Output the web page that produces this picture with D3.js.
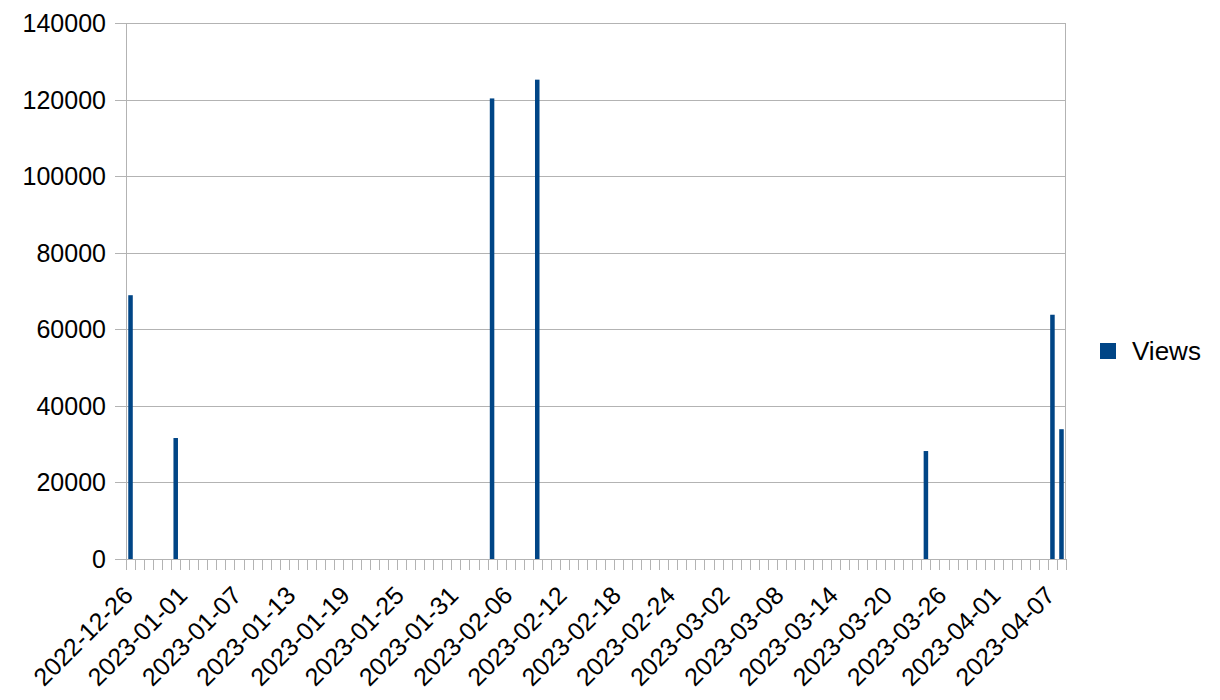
<!DOCTYPE html>
<html lang="en">
<head>
  <meta charset="UTF-8">
  <title>Views</title>
  <script src="https://d3js.org/d3.v7.min.js"></script>
  <style>
    body {
      margin: 0;
      background: #fff;
      font-family: 'Liberation Sans', Arial, sans-serif;
    }
    .axis-text {
      fill: #000;
    }
  </style>
</head>
<body>
  <svg id="chart" width="1220" height="700"></svg>

  <script>
    // first and last day on the category axis (one category per day)
    const firstDay = "2022-12-26";
    const lastDay = "2023-04-08";

    // days that have views
    const viewDates = ["2022-12-26", "2022-12-31", "2023-02-04", "2023-02-09", "2023-03-24", "2023-04-07", "2023-04-08"];
    const viewValues = [68900, 31600, 120300, 125200, 28200, 63800, 33900];

    const yTicks = [0, 20000, 40000, 60000, 80000, 100000, 120000, 140000];
    const labelEvery = 6;

    const parse = d3.utcParse("%Y-%m-%d");
    const fmt = d3.utcFormat("%Y-%m-%d");
    const days = d3.utcDay.range(parse(firstDay), d3.utcDay.offset(parse(lastDay), 1)).map(fmt);

    const data = viewDates.map((d, i) => ({date: d, value: viewValues[i]}));

    const svg = d3.select("#chart");
    const margin = {top: 23, right: 154, bottom: 141, left: 126};
    const width = 1220 - margin.left - margin.right;
    const height = 700 - margin.top - margin.bottom;
    const g = svg.append("g").attr("transform", `translate(${margin.left},${margin.top})`);

    const x = d3.scaleBand()
                .domain(days)
                .range([0, width]);

    const y = d3.scaleLinear()
                .domain([0, 140000])
                .range([height, 0]);

    // gridlines
    g.selectAll(".grid")
      .data(yTicks)
      .enter()
      .append("line")
      .attr("x1", -11)
      .attr("x2", width)
      .attr("y1", d => Math.round(y(d)) + 0.5)
      .attr("y2", d => Math.round(y(d)) + 0.5)
      .attr("stroke", "#b3b3b3")
      .attr("stroke-width", 1);

    // left axis line and right border
    g.append("line")
      .attr("x1", 0.5).attr("x2", 0.5)
      .attr("y1", 0).attr("y2", height)
      .attr("stroke", "#b3b3b3");
    g.append("line")
      .attr("x1", width - 0.5).attr("x2", width - 0.5)
      .attr("y1", 0).attr("y2", height)
      .attr("stroke", "#b3b3b3");

    // category tick marks at boundaries
    const bounds = days.map(d => x(d)).concat([width]);
    g.selectAll(".xtick")
      .data(bounds)
      .enter()
      .append("line")
      .attr("x1", d => Math.round(d) + 0.5)
      .attr("x2", d => Math.round(d) + 0.5)
      .attr("y1", height)
      .attr("y2", height + 11)
      .attr("stroke", "#b3b3b3");

    // y labels
    g.selectAll(".ylabel")
      .data(yTicks)
      .enter()
      .append("text")
      .attr("class", "axis-text")
      .style("font-size", "25px")
      .attr("x", -20)
      .attr("y", d => y(d))
      .attr("dy", "0.36em")
      .attr("text-anchor", "end")
      .text(d => d);

    // x labels, rotated
    const labelled = days.filter((d, i) => i % labelEvery === 0);
    g.selectAll(".xlabel")
      .data(labelled)
      .enter()
      .append("text")
      .attr("class", "axis-text")
      .style("font-size", "25px")
      .attr("text-anchor", "end")
      .attr("transform", d => `translate(${x(d) + x.bandwidth() / 2 + 4},${height + 38}) rotate(-45)`)
      .text(d => d);

    // bars
    const barW = x.bandwidth() * 0.5;
    g.selectAll(".bar")
      .data(data)
      .enter()
      .append("rect")
      .attr("x", d => x(d.date) + (x.bandwidth() - barW) / 2)
      .attr("y", d => y(d.value))
      .attr("width", barW)
      .attr("height", d => height - y(d.value))
      .attr("fill", "#004586");

    // legend
    const legend = svg.append("g").attr("transform", "translate(1100,343)");
    legend.append("rect")
      .attr("width", 16)
      .attr("height", 16)
      .attr("fill", "#004586");
    legend.append("text")
      .attr("x", 32)
      .attr("y", 8)
      .attr("dy", "0.36em")
      .style("font-size", "26px")
      .text("Views");
  </script>
</body>
</html>
